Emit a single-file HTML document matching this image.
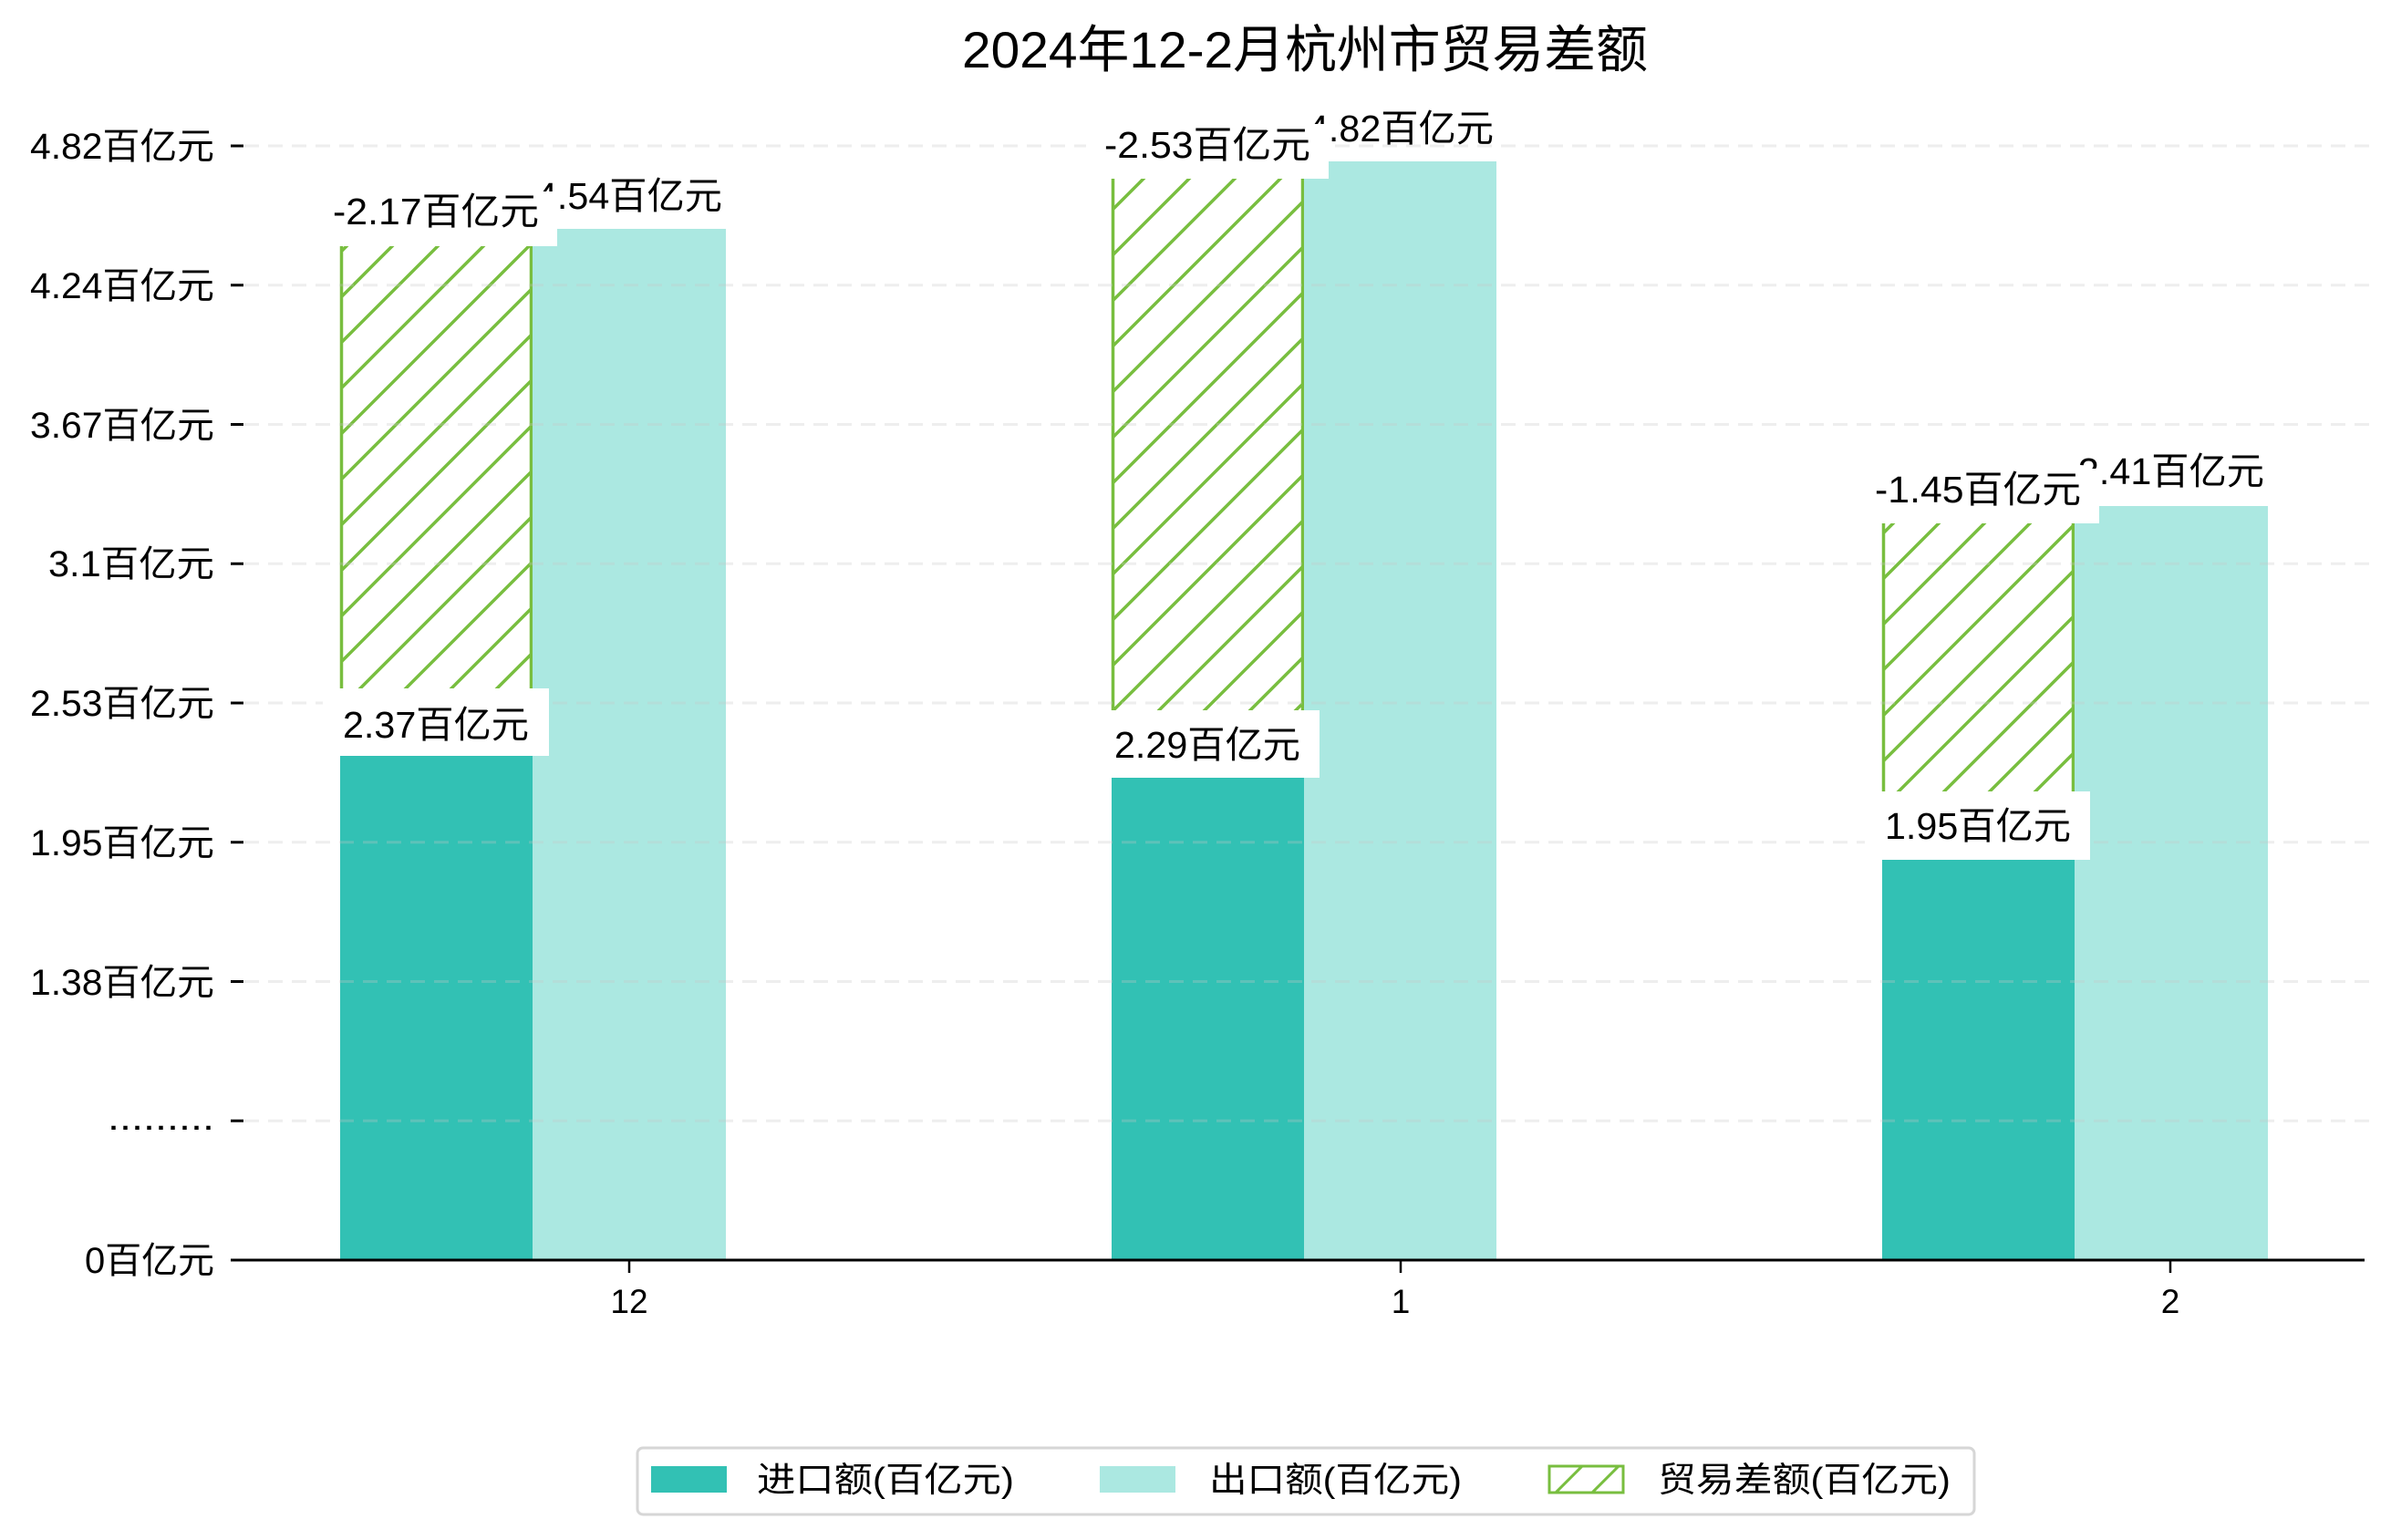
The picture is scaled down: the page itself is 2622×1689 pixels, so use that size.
<!DOCTYPE html>
<html><head><meta charset="utf-8"><style>
html,body{margin:0;padding:0;background:#fff}
svg{display:block}
text{font-family:"Liberation Sans","WenQuanYi Zen Hei","Noto Sans CJK SC",sans-serif;fill:#000}
</style></head><body>
<svg width="2622" height="1689" viewBox="0 0 2622 1689" xmlns="http://www.w3.org/2000/svg">
<defs>
<pattern id="h" patternUnits="userSpaceOnUse" width="50" height="50">
<path d="M-10,10 L10,-10 M0,50 L50,0 M40,60 L60,40" stroke="#78be3f" stroke-width="3.5"/>
</pattern>
<pattern id="hl" patternUnits="userSpaceOnUse" width="40" height="40" x="1697" y="1606">
<path d="M-10,10 L10,-10 M0,40 L40,0" stroke="#78be3f" stroke-width="3"/>
</pattern>
</defs>

<text x="1431" y="74" font-size="56" text-anchor="middle" textLength="752" lengthAdjust="spacingAndGlyphs">2024年12-2月杭州市贸易差额</text>

<rect x="373" y="829" width="211" height="553" fill="#32c1b4"/>
<rect x="373" y="270" width="211" height="559" fill="url(#h)"/>
<line x1="374.5" y1="270" x2="374.5" y2="829" stroke="#78be3f" stroke-width="3.5"/>
<line x1="582.5" y1="270" x2="582.5" y2="829" stroke="#78be3f" stroke-width="3.5"/>
<rect x="584" y="251" width="212" height="1131" fill="#abe8e1"/>

<rect x="1219" y="853" width="211" height="529" fill="#32c1b4"/>
<rect x="1219" y="196" width="211" height="657" fill="url(#h)"/>
<line x1="1220.5" y1="196" x2="1220.5" y2="853" stroke="#78be3f" stroke-width="3.5"/>
<line x1="1428.5" y1="196" x2="1428.5" y2="853" stroke="#78be3f" stroke-width="3.5"/>
<rect x="1430" y="177" width="211" height="1205" fill="#abe8e1"/>

<rect x="2064" y="943" width="211" height="439" fill="#32c1b4"/>
<rect x="2064" y="574" width="211" height="369" fill="url(#h)"/>
<line x1="2065.5" y1="574" x2="2065.5" y2="943" stroke="#78be3f" stroke-width="3.5"/>
<line x1="2273.5" y1="574" x2="2273.5" y2="943" stroke="#78be3f" stroke-width="3.5"/>
<rect x="2275" y="555" width="212" height="827" fill="#abe8e1"/>

<g stroke="#c8c8c8" stroke-opacity="0.3" stroke-width="3" stroke-dasharray="16,10">
<line x1="268" y1="160" x2="2600" y2="160"/>
<line x1="268" y1="312.75" x2="2600" y2="312.75"/>
<line x1="268" y1="465.5" x2="2600" y2="465.5"/>
<line x1="268" y1="618.25" x2="2600" y2="618.25"/>
<line x1="268" y1="771" x2="2600" y2="771"/>
<line x1="268" y1="923.75" x2="2600" y2="923.75"/>
<line x1="268" y1="1076.5" x2="2600" y2="1076.5"/>
<line x1="268" y1="1229.25" x2="2600" y2="1229.25"/>
</g>

<g stroke="#000" stroke-width="3">
<line x1="253" y1="160" x2="267" y2="160"/>
<line x1="253" y1="312.75" x2="267" y2="312.75"/>
<line x1="253" y1="465.5" x2="267" y2="465.5"/>
<line x1="253" y1="618.25" x2="267" y2="618.25"/>
<line x1="253" y1="771" x2="267" y2="771"/>
<line x1="253" y1="923.75" x2="267" y2="923.75"/>
<line x1="253" y1="1076.5" x2="267" y2="1076.5"/>
<line x1="253" y1="1229.25" x2="267" y2="1229.25"/>
</g>
<g font-size="40" text-anchor="end">
<text x="235" y="174" textLength="202" lengthAdjust="spacingAndGlyphs">4.82百亿元</text>
<text x="235" y="327" textLength="202" lengthAdjust="spacingAndGlyphs">4.24百亿元</text>
<text x="235" y="480" textLength="202" lengthAdjust="spacingAndGlyphs">3.67百亿元</text>
<text x="235" y="632" textLength="182" lengthAdjust="spacingAndGlyphs">3.1百亿元</text>
<text x="235" y="785" textLength="202" lengthAdjust="spacingAndGlyphs">2.53百亿元</text>
<text x="235" y="938" textLength="202" lengthAdjust="spacingAndGlyphs">1.95百亿元</text>
<text x="235" y="1091" textLength="202" lengthAdjust="spacingAndGlyphs">1.38百亿元</text>
<text x="235" y="1239" textLength="117" lengthAdjust="spacingAndGlyphs">.........</text>
<text x="235" y="1396" textLength="142" lengthAdjust="spacingAndGlyphs">0百亿元</text>
</g>

<line x1="253" y1="1382" x2="2593" y2="1382" stroke="#000" stroke-width="3"/>
<g stroke="#000" stroke-width="2.5">
<line x1="690" y1="1382" x2="690" y2="1396"/>
<line x1="1536" y1="1382" x2="1536" y2="1396"/>
<line x1="2380" y1="1382" x2="2380" y2="1396"/>
</g>
<g font-size="37" text-anchor="middle">
<text x="690" y="1440">12</text>
<text x="1536" y="1440">1</text>
<text x="2380" y="1440">2</text>
</g>

<g font-size="41" text-anchor="middle">
<text x="588" y="229" text-anchor="start" textLength="204" lengthAdjust="spacingAndGlyphs">4.54百亿元</text>
<rect x="345" y="210" width="266" height="60" fill="#fff"/>
<text x="478" y="246" textLength="226" lengthAdjust="spacingAndGlyphs">-2.17百亿元</text>
<rect x="354" y="755" width="248" height="74" fill="#fff"/>
<text x="478" y="809" textLength="204" lengthAdjust="spacingAndGlyphs">2.37百亿元</text>

<text x="1434" y="155" text-anchor="start" textLength="204" lengthAdjust="spacingAndGlyphs">4.82百亿元</text>
<rect x="1191" y="136" width="266" height="60" fill="#fff"/>
<text x="1324" y="173" textLength="226" lengthAdjust="spacingAndGlyphs">-2.53百亿元</text>
<rect x="1200" y="779" width="247" height="74" fill="#fff"/>
<text x="1324" y="831" textLength="204" lengthAdjust="spacingAndGlyphs">2.29百亿元</text>

<text x="2279" y="531" text-anchor="start" textLength="204" lengthAdjust="spacingAndGlyphs">3.41百亿元</text>
<rect x="2036" y="514" width="266" height="60" fill="#fff"/>
<text x="2169" y="551" textLength="226" lengthAdjust="spacingAndGlyphs">-1.45百亿元</text>
<rect x="2045" y="868" width="247" height="75" fill="#fff"/>
<text x="2169" y="920" textLength="204" lengthAdjust="spacingAndGlyphs">1.95百亿元</text>
</g>

<rect x="699" y="1588" width="1466" height="73" rx="6" fill="#fff" stroke="#d6d6d6" stroke-width="3"/>
<rect x="714" y="1608" width="83" height="29" fill="#32c1b4"/>
<rect x="1206" y="1608" width="83" height="29" fill="#abe8e1"/>
<rect x="1699" y="1608" width="81" height="29" fill="url(#hl)" stroke="#78be3f" stroke-width="3"/>
<g font-size="38">
<text x="830" y="1636" textLength="282" lengthAdjust="spacingAndGlyphs">进口额(百亿元)</text>
<text x="1326" y="1636" textLength="277" lengthAdjust="spacingAndGlyphs">出口额(百亿元)</text>
<text x="1818" y="1636" textLength="321" lengthAdjust="spacingAndGlyphs">贸易差额(百亿元)</text>
</g>
</svg>
</body></html>
